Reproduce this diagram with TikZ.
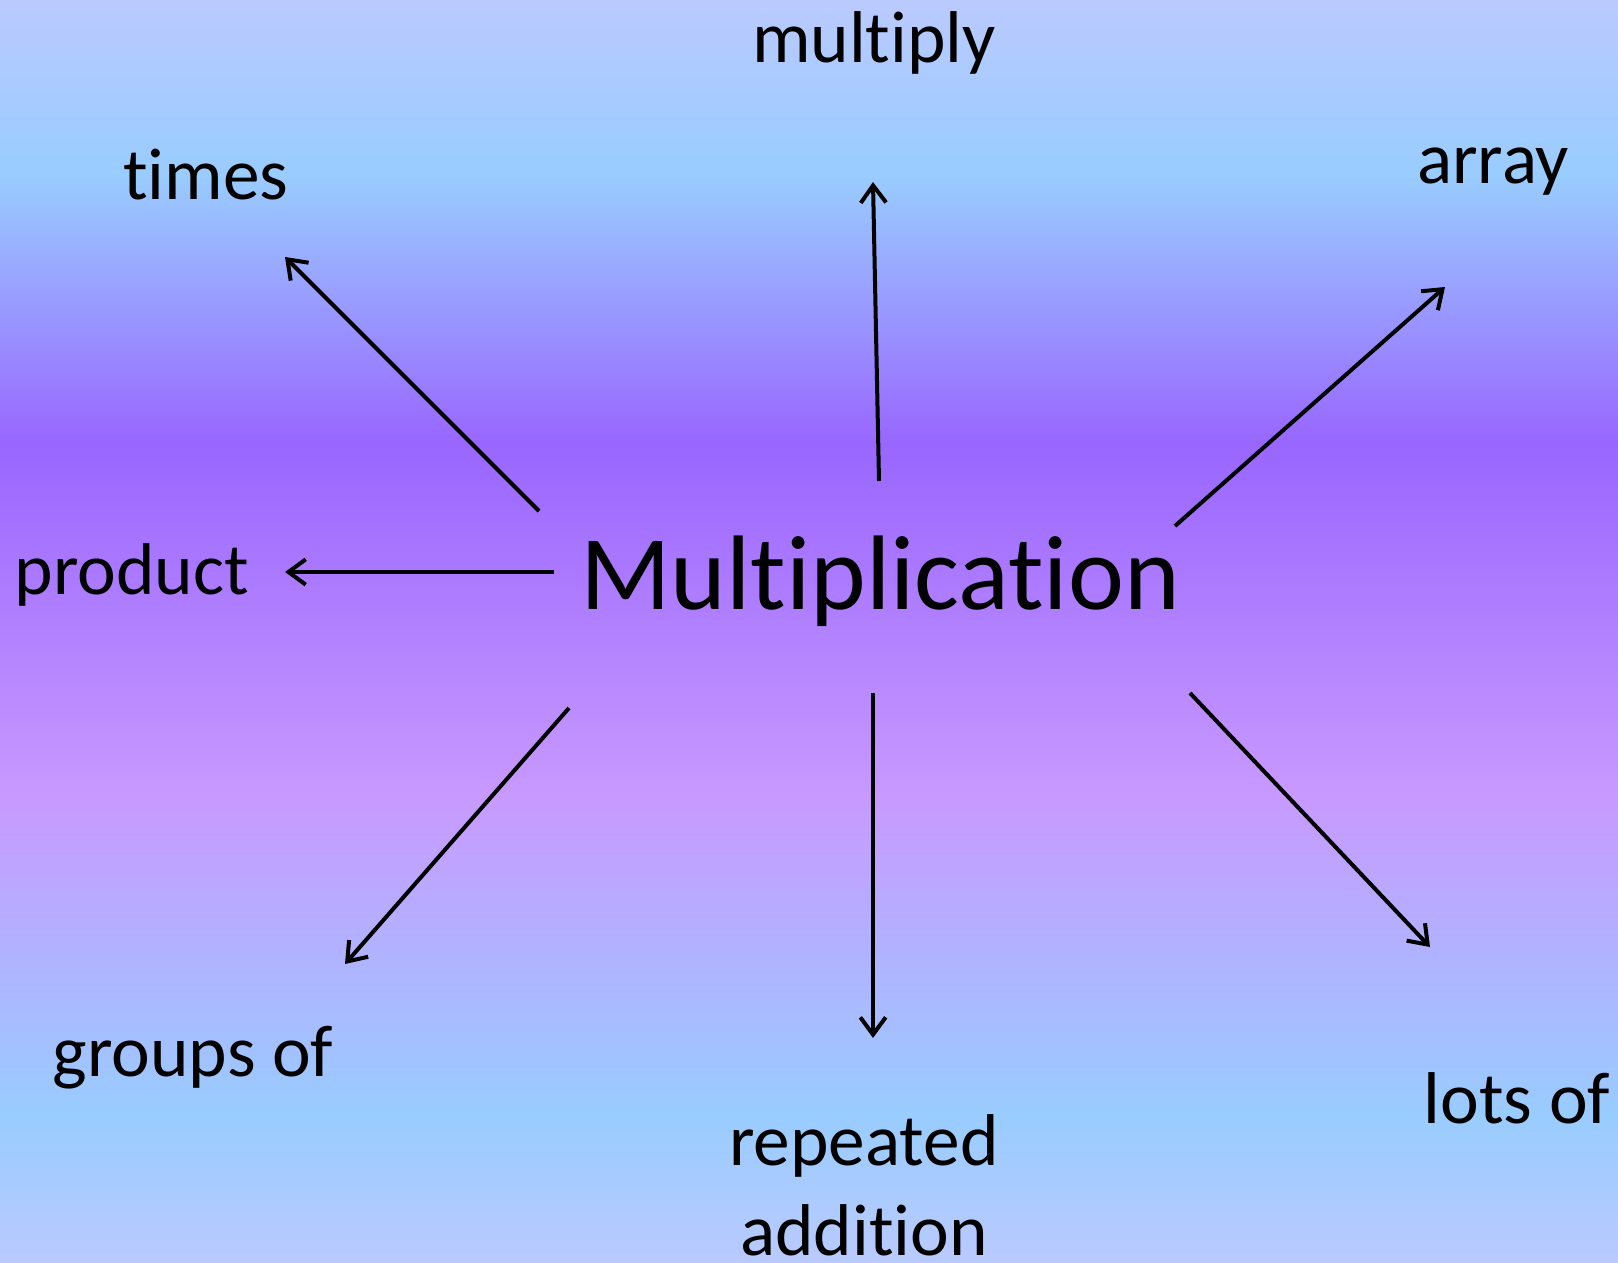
\documentclass[tikz,border=0pt]{standalone}
\usepackage{fontspec}
\setmainfont{Carlito}[Ligatures={NoCommon,NoContextual}]
\usetikzlibrary{arrows.meta}

\definecolor{paleblue}{HTML}{BACAFF}
\definecolor{skyblue}{HTML}{99CCFF}
\definecolor{violet}{HTML}{9966FF}
\definecolor{lilac}{HTML}{C899FF}

\pgfdeclareverticalshading{slidebg}{100bp}{color(0bp)=(paleblue); color(25bp)=(paleblue);
  color(30.86bp)=(skyblue); color(43.53bp)=(lilac); color(57.42bp)=(violet);
  color(68.07bp)=(skyblue); color(75bp)=(paleblue); color(100bp)=(paleblue)}

\begin{document}
\begin{tikzpicture}[x=0.75pt, y=-0.75pt]
    \tikzstyle{word}=[font=\fontsize{55}{67.5}\selectfont, inner sep=0pt, anchor=base]
    \tikzstyle{hub}=[word, font=\fontsize{79.5}{95}\selectfont]
    \tikzstyle{link}=[line width=3pt, -{Straight Barb[length=13pt,width=19pt]}]

    \useasboundingbox (0,0) rectangle (1618,1263);
    \shade[shading=slidebg] (0,0) rectangle (1618,1263);

    \node[hub] (mult) at (880,609) {Multiplication};
    \node[word] (multiply) at (874,63) {multiply};
    \node[word] (times) at (206,199) {times};
    \node[word] (array) at (1493,183) {array};
    \node[word] (product) at (132,594) {product};
    \node[word] (groups) at (193,1076) {groups of};
    \node[word, align=center] (repeated) at (864,1255) {repeated\\addition};
    \node[word] (lots) at (1517,1123) {lots of};

    \coordinate (times-from) at (539,511);    \coordinate (times-to) at (285,257);
    \coordinate (multiply-from) at (879,481); \coordinate (multiply-to) at (873,182);
    \coordinate (array-from) at (1175,526);   \coordinate (array-to) at (1445,287);
    \coordinate (product-from) at (554,572);  \coordinate (product-to) at (285,572);
    \coordinate (groups-from) at (569,708);   \coordinate (groups-to) at (345,964);
    \coordinate (repeated-from) at (873,693); \coordinate (repeated-to) at (873,1038);
    \coordinate (lots-from) at (1190,693);    \coordinate (lots-to) at (1430,947);

    \foreach \w in {times,multiply,array,product,groups,repeated,lots}
        \draw[link] (\w-from) -- (\w-to);
\end{tikzpicture}
\end{document}
